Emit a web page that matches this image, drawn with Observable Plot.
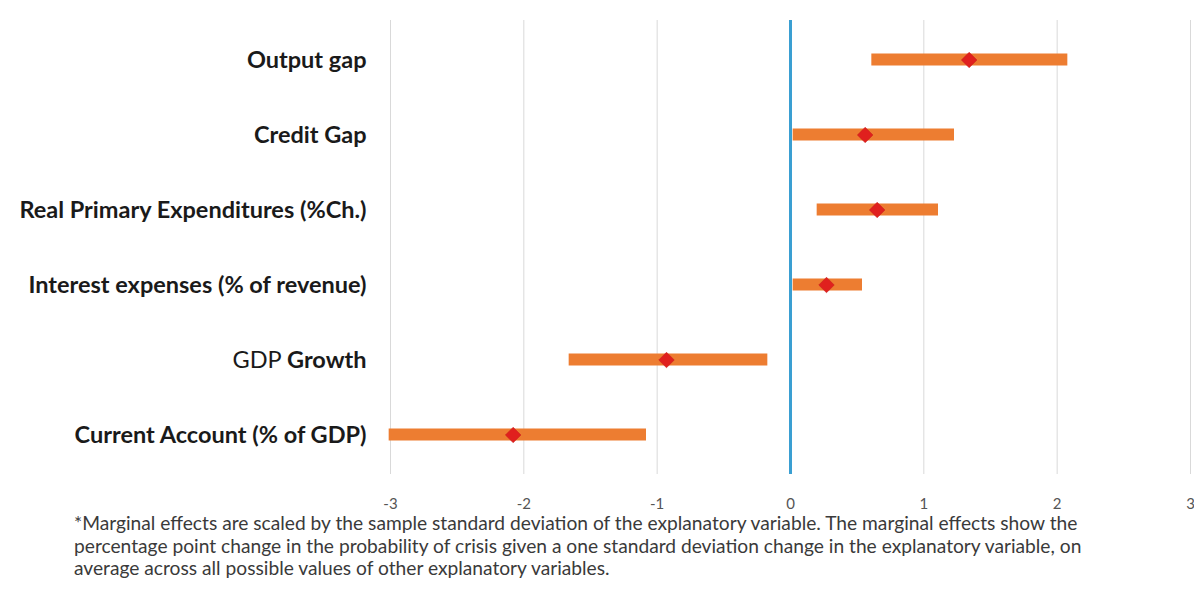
<!DOCTYPE html>
<html>
<head>
<meta charset="utf-8">
<script src="https://cdn.jsdelivr.net/npm/d3@7"></script>
<script src="https://cdn.jsdelivr.net/npm/@observablehq/plot@0.6"></script>
<style>
  html, body { margin: 0; padding: 0; background: #fff; }
  #chart { width: 1194px; }
  #note {
    font-family: Lato, "Noto Sans", sans-serif;
    font-size: 19.2px;
    color: #3a3a3a;
    line-height: 22.5px;
    margin: -4px 0 0 74px;
    width: 1115px;
    white-space: nowrap;
  }
</style>
</head>
<body>
<div id="chart"></div>
<div id="note">*Marginal effects are scaled by the sample standard deviation of the explanatory variable. The marginal effects show the<br>percentage point change in the probability of crisis given a one standard deviation change in the explanatory variable, on<br>average across all possible values of other explanatory variables.</div>
<script>
const categories = [
  "Output gap",
  "Credit Gap",
  "Real Primary Expenditures (%Ch.)",
  "Interest expenses (% of revenue)",
  "GDP Growth",
  "Current Account (% of GDP)"
];
const lower = [0.61, 0.02, 0.20, 0.02, -1.66, -3.01];
const upper = [2.08, 1.23, 1.11, 0.54, -0.17, -1.08];
const estimate = [1.34, 0.56, 0.65, 0.27, -0.93, -2.08];
const xTicks = [-3, -2, -1, 0, 1, 2, 3];

const rows = categories.map((c, i) => ({cat: c, lo: lower[i], hi: upper[i], est: estimate[i]}));
const fmt = d => d < 0 ? "-" + Math.abs(d) : String(d);

const chart = Plot.plot({
  width: 1194,
  height: 516,
  marginLeft: 390,
  marginRight: 4,
  marginTop: 20,
  marginBottom: 42,
  style: {fontFamily: "Lato, 'Noto Sans', sans-serif", background: "#fff"},
  x: {domain: [-3, 3], ticks: xTicks, tickFormat: fmt},
  y: {domain: categories, padding: 0},
  marks: [
    Plot.gridX(xTicks.filter(d => d !== 0), {stroke: "#d9d9d9", strokeOpacity: 1, strokeWidth: 1}),
    Plot.axisX({ticks: xTicks, tickSize: 0, tickPadding: 24, fontSize: 15, fill: "#555", tickFormat: fmt, label: null}),
    Plot.axisY({tickSize: 0, tickPadding: 24, fontSize: 23.5, fontWeight: "bold", fill: "#1a1a1a", label: null}),
    Plot.barX(rows, {x1: "lo", x2: "hi", y: "cat", fill: "#ED7D31", insetTop: 31.5, insetBottom: 31.5}),
    Plot.ruleX([0], {stroke: "#3A9FD2", strokeWidth: 3}),
    Plot.dot(rows, {x: "est", y: "cat", symbol: "diamond2", r: 7, fill: "#E0201E", stroke: "#C41A1A", strokeWidth: 0.5})
  ]
});
document.getElementById("chart").appendChild(chart);

// "GDP" in regular weight, "Growth" in bold, as in the original label
chart.querySelectorAll("text").forEach(t => {
  if (t.textContent === "GDP Growth") {
    t.textContent = "";
    const ns = "http://www.w3.org/2000/svg";
    const a = document.createElementNS(ns, "tspan");
    a.setAttribute("font-weight", "normal");
    a.textContent = "GDP ";
    const b = document.createElementNS(ns, "tspan");
    b.setAttribute("font-weight", "bold");
    b.textContent = "Growth";
    t.appendChild(a); t.appendChild(b);
  }
});
</script>
</body>
</html>
